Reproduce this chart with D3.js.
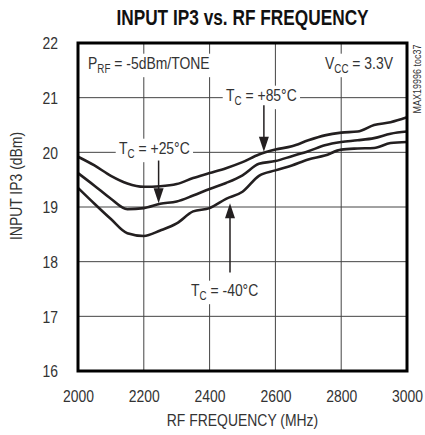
<!DOCTYPE html>
<html><head><meta charset="utf-8">
<script src="https://cdn.jsdelivr.net/npm/d3@7"></script>
<style>
body{margin:0;background:#fff;}
text{font-family:"Liberation Sans",Arial,sans-serif;}
</style></head><body>
<svg id="c" width="425" height="435"></svg>
<script>
const freq = [2000,2050,2100,2150,2200,2250,2300,2350,2400,2450,2500,2550,2600,2650,2700,2750,2800,2850,2900,2950,3000];
const ip3_85 = [19.92,19.76,19.57,19.43,19.37,19.38,19.42,19.53,19.62,19.71,19.82,19.96,20.05,20.11,20.22,20.31,20.36,20.38,20.50,20.55,20.64];
const ip3_25 = [19.62,19.39,19.15,18.96,18.98,19.06,19.10,19.21,19.33,19.44,19.58,19.79,19.84,19.93,20.02,20.13,20.19,20.22,20.26,20.34,20.38];
const ip3_m40 = [19.35,19.06,18.78,18.52,18.47,18.57,18.70,18.92,18.98,19.15,19.28,19.57,19.67,19.76,19.87,19.94,20.05,20.07,20.08,20.17,20.19];
const xTicks = [2000,2200,2400,2600,2800,3000];
const yTicks = [16,17,18,19,20,21,22];

const svg = d3.select("#c");
const L=78, T=43, R=407, B=371;
const x = d3.scaleLinear().domain([2000,3000]).range([L,R]);
const y = d3.scaleLinear().domain([16,22]).range([B,T]);
const ink = "#231f20", txt = "#333";
const NS = 0.82; // narrow-font horizontal squeeze

function ntext(parent, px, py, rot, size, anchor, sx){
  const g = parent.append("g").attr("transform",`translate(${px},${py})${rot?` rotate(${rot})`:""} scale(${sx||NS},1)`);
  const t = g.append("text").attr("font-size",size).attr("fill",txt).attr("text-anchor",anchor||"start");
  return {g,t};
}

// title
{
  const {t} = ntext(svg, (L+R)/2, 25, 0, 22, "middle", 0.785);
  t.attr("font-weight","bold").attr("fill","#111").text("INPUT IP3 vs. RF FREQUENCY");
}

// grid
const grid = svg.append("g");
grid.selectAll(".gx").data(xTicks.slice(1,-1)).join("line")
  .attr("x1",d=>x(d)).attr("x2",d=>x(d)).attr("y1",T).attr("y2",B)
  .attr("stroke","#444").attr("stroke-width",1);
grid.selectAll(".gy").data(yTicks.slice(1,-1)).join("line")
  .attr("y1",d=>y(d)).attr("y2",d=>y(d)).attr("x1",L).attr("x2",R)
  .attr("stroke","#444").attr("stroke-width",1);

// axes (labels only)
const xAxis = d3.axisBottom(x).tickValues(xTicks).tickSize(0).tickPadding(0).tickFormat(d3.format("d"));
const gx = svg.append("g").attr("transform",`translate(0,${B})`).call(xAxis);
gx.select(".domain").remove();
gx.selectAll("text").attr("font-size",17).attr("fill",txt).attr("dy",null).attr("y",31)
  .attr("transform",`scale(${NS},1)`).style("font-family",'"Liberation Sans",Arial,sans-serif');
const yAxis = d3.axisLeft(y).tickValues(yTicks).tickSize(0).tickPadding(0).tickFormat(d3.format("d"));
const gy = svg.append("g").attr("transform",`translate(${L},0)`).call(yAxis);
gy.select(".domain").remove();
gy.selectAll("text").attr("font-size",17).attr("fill",txt).attr("x",-20/NS).attr("dy","0.35em")
  .attr("transform",`scale(${NS},1)`).style("font-family",'"Liberation Sans",Arial,sans-serif');

ntext(svg,(L+R)/2,426,0,17,"middle").t.text("RF FREQUENCY (MHz)");
ntext(svg,22,186,-90,17,"middle").t.text("INPUT IP3 (dBm)");
ntext(svg,421,79,-90,11,"middle").t.text("MAX19996 toc37");

// annotation labels with white background
const annG = svg.append("g");
function label(px, py, main, sub, rest){
  const {g,t} = ntext(annG, px, py, 0, 17, "start");
  t.append("tspan").text(main);
  t.append("tspan").attr("font-size",12).attr("dy",4).text(sub);
  t.append("tspan").attr("dy",-4).text(rest);
  const bb = t.node().getBBox();
  g.insert("rect","text").attr("x",bb.x-4).attr("y",bb.y).attr("width",bb.width+8).attr("height",bb.height+2).attr("fill","#fff");
}

// curves
const line = d3.line().x(d=>x(d[0])).y(d=>y(d[1])).curve(d3.curveMonotoneX);
[ip3_85, ip3_25, ip3_m40].forEach(s=>{
  svg.append("path").datum(freq.map((f,i)=>[f,s[i]])).attr("d",line)
    .attr("fill","none").attr("stroke",ink).attr("stroke-width",2.6).attr("stroke-linejoin","round");
});

label(88,69,"P","RF"," = -5dBm/TONE");
label(325,69,"V","CC"," = 3.3V");
label(226,101,"T","C"," = +85°C");
label(119,154,"T","C"," = +25°C");
label(191,296,"T","C"," = -40°C");

// arrows
function arrow(f, v0, v1){
  const xp = x(f), y0 = y(v0), y1 = y(v1);
  const dir = y1>y0 ? 1 : -1;
  svg.append("line").attr("x1",xp).attr("x2",xp).attr("y1",y0).attr("y2",y1-dir*8)
    .attr("stroke",ink).attr("stroke-width",1.5);
  svg.append("path").attr("d",`M${xp},${y1} L${xp-5},${y1-dir*15} L${xp+5},${y1-dir*15} Z`).attr("fill",ink);
}
arrow(2565, 20.86, 20.01);
arrow(2245, 19.85, 19.07);
arrow(2462, 17.8, 19.07);

// frame
svg.append("rect").attr("x",L).attr("y",T).attr("width",R-L).attr("height",B-T)
  .attr("fill","none").attr("stroke","#000").attr("stroke-width",3);
</script></body></html>
